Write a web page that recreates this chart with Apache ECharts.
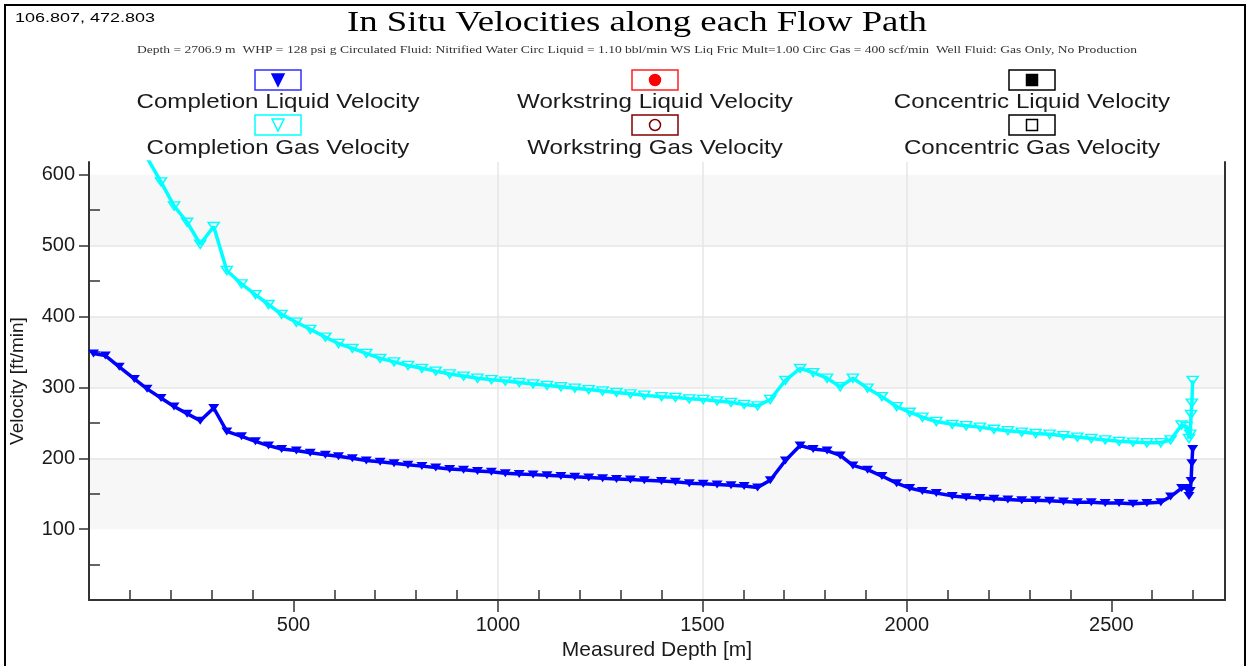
<!DOCTYPE html>
<html>
<head>
<meta charset="utf-8">
<title>In Situ Velocities along each Flow Path</title>
<script src="https://cdn.jsdelivr.net/npm/echarts@6.0.0/dist/echarts.min.js"></script>
<style>
    html, body { margin: 0; padding: 0; background: #fff; }
    #chart { width: 1250px; height: 666px; }
</style>
</head>
<body>
<div id="chart"></div>
<script>
// measured depth of each station [m]
var depths = [11, 40, 74, 111, 142, 176, 208, 240, 272, 305,
    337, 373, 407, 439, 471, 507, 541, 578, 610, 644,
    678, 712, 746, 780, 814, 848, 882, 916, 950, 984,
    1018, 1052, 1086, 1120, 1154, 1188, 1222, 1256, 1290, 1324,
    1358, 1400, 1434, 1468, 1502, 1536, 1570, 1602, 1635, 1666,
    1703, 1739, 1771, 1805, 1837, 1868, 1904, 1939, 1975, 2007,
    2038, 2072, 2111, 2145, 2179, 2213, 2247, 2281, 2315, 2349,
    2383, 2417, 2451, 2485, 2519, 2553, 2587, 2621, 2645, 2672,
    2684, 2690, 2693, 2695, 2697, 2699];

// velocities [ft/min]
var completionGas = [790, 750, 705, 662, 624, 590, 556, 533, 502, 527,
    465, 446, 431, 417, 403, 392, 382, 371, 362, 355,
    348, 341, 336, 331, 327, 323, 319, 316, 313, 311,
    309, 307, 305, 303, 301, 299, 297, 295, 293, 291,
    289, 287, 286, 284, 283, 281, 279, 276, 274, 283,
    310, 327, 321, 313, 301, 313, 299, 287, 273, 265,
    258, 252, 248, 246, 244, 241, 239, 237, 235, 234,
    232, 230, 228, 226, 224, 223, 222, 222, 226, 247,
    245, 228, 234, 262, 278, 310];

var completionLiquid = [348, 345, 329, 312, 298, 285, 273, 263, 253, 271,
    238, 231, 224, 218, 213, 211, 208, 205, 203, 200,
    197, 195, 193, 191, 189, 187, 185, 184, 182, 181,
    179, 178, 177, 176, 175, 174, 173, 172, 171, 170,
    169, 168, 167, 165, 164, 163, 162, 161, 159, 169,
    197, 218, 213, 211, 204, 190, 184, 175, 165, 158,
    154, 151, 147, 145, 144, 143, 142, 141, 141, 140,
    139, 138, 138, 137, 137, 136, 137, 138, 146, 158,
    158, 147, 154, 168, 193, 213];

// the other flow paths carry nothing in this case
var workstringLiquid = [];
var workstringGas = [];
var concentricLiquid = [];
var concentricGas = [];

var xLabelValues = [500, 1000, 1500, 2000, 2500];
var xMinorValues = [100, 200, 300, 400, 600, 700, 800, 900, 1100, 1200, 1300, 1400,
    1600, 1700, 1800, 1900, 2100, 2200, 2300, 2400, 2600, 2700];
var yLabelValues = [100, 200, 300, 400, 500, 600];
var yMinorValues = [50, 150, 250, 350, 450, 550];

var legendNames = ['Completion Liquid Velocity', 'Workstring Liquid Velocity', 'Concentric Liquid Velocity',
    'Completion Gas Velocity', 'Workstring Gas Velocity', 'Concentric Gas Velocity'];

var chartTitle = 'In Situ Velocities along each Flow Path';
var chartSubtitle = 'Depth = 2706.9 m  WHP = 128 psi g Circulated Fluid: Nitrified Water Circ Liquid = 1.10 bbl/min WS Liq Fric Mult=1.00 Circ Gas = 400 scf/min  Well Fluid: Gas Only, No Production';
var cursorText = '106.807, 472.803';

function pairs(xs, ys) {
    return ys.map(function (v, i) { return [xs[i], v]; });
}

// the reference picture is stretched sideways, so texts are scaled to its widths
var measureCtx = document.createElement('canvas').getContext('2d');
function fitScale(text, font, width) {
    measureCtx.font = font;
    return width / measureCtx.measureText(text).width;
}

var SANS = '"Liberation Sans", Arial, sans-serif';
var SERIF = '"Liberation Serif", "Times New Roman", serif';
var TEXT = '#1a1a1a';
var AXIS = '#333';

var triDown = 'path://M0,0L10,0L5,8Z';

// legend drawn as box-with-marker above the name, three columns
var legendColumns = [278, 655, 1032];
var legendStyles = [
    { box: '#3030ff', mark: 'tri', fill: '#0000ff', stroke: '#0000ff' },
    { box: '#ff2020', mark: 'circle', fill: '#ff0000', stroke: '#ff0000' },
    { box: '#000000', mark: 'square', fill: '#000000', stroke: '#000000' },
    { box: '#00ffff', mark: 'tri', fill: '#ffffff', stroke: '#00ffff' },
    { box: '#800000', mark: 'circle', fill: '#ffffff', stroke: '#800000' },
    { box: '#000000', mark: 'square', fill: '#ffffff', stroke: '#000000' }
];
var legendFont = '21px ' + SANS;
var legendScale = fitScale(legendNames[0], legendFont, 283);

var graphics = [
    {
        type: 'rect', silent: true,
        shape: { x: 5, y: 5, width: 1240, height: 690 },
        style: { fill: 'none', stroke: '#000', lineWidth: 2 }
    },
    {
        type: 'text', x: 15, y: 19,
        scaleX: fitScale(cursorText, '12px ' + SANS, 140),
        style: { text: cursorText, font: '12px ' + SANS, fill: '#000', align: 'left', verticalAlign: 'middle' }
    },
    {
        type: 'text', x: 637, y: 23,
        scaleX: fitScale(chartTitle, '29px ' + SERIF, 580),
        style: { text: chartTitle, font: '29px ' + SERIF, fill: '#000', align: 'center', verticalAlign: 'middle' }
    },
    {
        type: 'text', x: 637, y: 50,
        scaleX: fitScale(chartSubtitle, '10px ' + SERIF, 1000),
        style: { text: chartSubtitle, font: '10px ' + SERIF, fill: '#333', align: 'center', verticalAlign: 'middle' }
    }
];

legendNames.forEach(function (name, i) {
    var cx = legendColumns[i % 3];
    var row = Math.floor(i / 3);
    var by = row ? 115 : 70;
    var cy = by + 10;
    var st = legendStyles[i];
    graphics.push({
        type: 'rect',
        shape: { x: cx - 23, y: by, width: 46, height: 20 },
        style: { fill: '#fff', stroke: st.box, lineWidth: 1.5 }
    });
    var mark;
    if (st.mark === 'tri') {
        mark = { type: 'polygon', shape: { points: [[cx - 6, cy - 6], [cx + 6, cy - 6], [cx, cy + 6]] } };
    } else if (st.mark === 'circle') {
        mark = { type: 'circle', shape: { cx: cx, cy: cy, r: 5.5 } };
    } else {
        mark = { type: 'rect', shape: { x: cx - 5.5, y: cy - 5.5, width: 11, height: 11 } };
    }
    mark.style = { fill: st.fill, stroke: st.stroke, lineWidth: 1.5 };
    graphics.push(mark);
    graphics.push({
        type: 'text', x: cx, y: row ? 148 : 102,
        scaleX: legendScale,
        style: { text: name, font: legendFont, fill: TEXT, align: 'center', verticalAlign: 'middle' }
    });
});

var X_MIN = 0, X_MAX = 2778, Y_MIN = 0, Y_MAX = 618;

var option = {
    animation: false,
    backgroundColor: '#fff',
    grid: { left: 86, right: 25, top: 162, bottom: 58 },
    graphic: graphics,
    xAxis: [
        {
            type: 'value', position: 'bottom',
            min: X_MIN, max: X_MAX, interval: 500,
            name: 'Measured Depth [m]', nameLocation: 'middle', nameGap: 33,
            nameTextStyle: { color: TEXT, fontSize: 21, fontFamily: SANS },
            axisLine: { show: true, lineStyle: { color: AXIS, width: 2 } },
            axisTick: { show: true, length: 12, customValues: xLabelValues, lineStyle: { color: AXIS, width: 1.5 } },
            axisLabel: {
                customValues: xLabelValues, color: TEXT, fontSize: 20, fontFamily: SANS, margin: 15,
                formatter: function (v) { return String(v); }
            },
            splitLine: { show: true, showMinLine: false, showMaxLine: false, lineStyle: { color: '#e6e6e6', width: 1.5 } }
        },
        {
            type: 'value', position: 'bottom',
            min: X_MIN, max: X_MAX, interval: 100,
            axisLine: { show: false },
            axisTick: { show: true, inside: true, length: 10, customValues: xMinorValues, lineStyle: { color: AXIS, width: 1.5 } },
            axisLabel: { show: false },
            splitLine: { show: false }
        }
    ],
    yAxis: [
        {
            type: 'value', position: 'left',
            min: Y_MIN, max: Y_MAX, interval: 100,
            name: 'Velocity [ft/min]', nameLocation: 'middle', nameGap: 62, nameRotate: 90,
            nameTextStyle: { color: TEXT, fontSize: 19, fontFamily: SANS },
            axisLine: { show: true, lineStyle: { color: AXIS, width: 2 } },
            axisTick: { show: true, length: 10, customValues: yLabelValues, lineStyle: { color: AXIS, width: 1.5 } },
            axisLabel: {
                customValues: yLabelValues, color: TEXT, fontSize: 20, fontFamily: SANS, margin: 14,
                formatter: function (v) { return String(v); }
            },
            splitLine: { show: true, showMinLine: false, showMaxLine: false, lineStyle: { color: '#e6e6e6', width: 1.5 } },
            splitArea: { show: true, areaStyle: { color: ['#f7f7f7', '#ffffff'] } }
        },
        {
            type: 'value', position: 'left',
            min: Y_MIN, max: Y_MAX, interval: 50,
            axisLine: { show: false },
            axisTick: { show: true, inside: true, length: 11, customValues: yMinorValues, lineStyle: { color: AXIS, width: 1.5 } },
            axisLabel: { show: false },
            splitLine: { show: false }
        },
        {
            type: 'value', position: 'right',
            min: Y_MIN, max: Y_MAX, interval: 100,
            axisLine: { show: true, lineStyle: { color: AXIS, width: 2 } },
            axisTick: { show: false },
            axisLabel: { show: false },
            splitLine: { show: false }
        }
    ],
    series: [
        {
            name: legendNames[0], type: 'line',
            data: pairs(depths, completionLiquid),
            symbol: triDown, symbolSize: [11, 8],
            itemStyle: { color: '#0000ff' },
            lineStyle: { color: '#0000ff', width: 3.5 },
            z: 3
        },
        {
            name: legendNames[3], type: 'line',
            data: pairs(depths, completionGas),
            symbol: triDown, symbolSize: [11, 8],
            itemStyle: { color: 'rgba(0,0,0,0)', borderColor: '#00ffff', borderWidth: 1.5 },
            lineStyle: { color: '#00ffff', width: 3.5 },
            z: 3
        },
        { name: legendNames[1], type: 'line', data: workstringLiquid, itemStyle: { color: '#ff0000' } },
        { name: legendNames[4], type: 'line', data: workstringGas, itemStyle: { color: '#800000' } },
        { name: legendNames[2], type: 'line', data: concentricLiquid, itemStyle: { color: '#000' } },
        { name: legendNames[5], type: 'line', data: concentricGas, itemStyle: { color: '#000' } }
    ]
};

var myChart = echarts.init(document.getElementById('chart'));
myChart.setOption(option);
</script>
</body>
</html>
